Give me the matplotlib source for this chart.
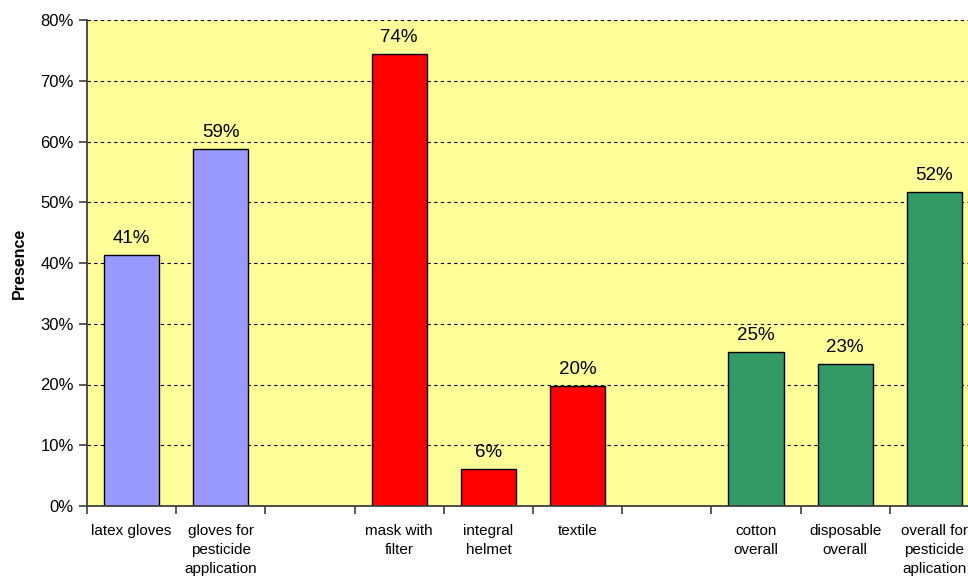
"""Presence of protective equipment, grouped bar chart."""

import matplotlib

matplotlib.use("Agg")
import matplotlib.pyplot as plt
from matplotlib.ticker import PercentFormatter

plt.rcParams["font.family"] = ["Liberation Sans", "DejaVu Sans"]

# data (None = empty gap slot between groups)
categories = [
    "latex gloves",
    "gloves for\npesticide\napplication",
    "",
    "mask with\nfilter",
    "integral\nhelmet",
    "textile",
    "",
    "cotton\noverall",
    "disposable\noverall",
    "overall for\npesticide\naplication",
]
presence = [41.3, 58.8, None, 74.4, 6.1, 19.7, None, 25.3, 23.4, 51.7]
bar_colors = ["#9999FF", "#9999FF", None, "#FF0000", "#FF0000", "#FF0000",
              None, "#339966", "#339966", "#339966"]

fig = plt.figure(figsize=(9.68, 5.78), dpi=100)
ax = fig.add_axes([87 / 968, 72 / 578, 892 / 968, 486 / 578])
ax.set_facecolor("#FFFF99")

n = len(categories)
centers = [i + 0.5 for i in range(n)]
for x, v, c in zip(centers, presence, bar_colors):
    if v is None:
        continue
    ax.bar(x, v, width=0.62, color=c, edgecolor="black", linewidth=1, zorder=3)
    ax.text(x, v + 1.3, f"{round(v):.0f}%", ha="center", va="bottom",
            fontsize=13.5, zorder=4)

ax.set_xlim(0, n)
ax.set_ylim(0, 80)
ax.set_yticks(range(0, 81, 10))
ax.yaxis.set_major_formatter(PercentFormatter(decimals=0))
ax.grid(axis="y", linestyle=(0, (3, 3)), color="black", linewidth=0.8, zorder=1)

# x ticks at slot boundaries, labels centered in slots
ax.set_xticks(range(n + 1))
ax.set_xticklabels([])
ax.set_xticks(centers, minor=True)
ax.set_xticklabels(categories, minor=True, fontsize=11, linespacing=1.46)
ax.tick_params(axis="x", which="minor", length=0, pad=13)
ax.tick_params(axis="x", which="major", length=6, width=1.2, color="#404040")
ax.tick_params(axis="y", length=6, width=1.2, color="#404040", labelsize=12)

for side in ("top", "right"):
    ax.spines[side].set_visible(False)
for side in ("left", "bottom"):
    ax.spines[side].set_color("#404040")
    ax.spines[side].set_linewidth(1.3)
    ax.spines[side].set_zorder(5)

ax.set_ylabel("Presence", fontsize=11.5, fontweight="bold", labelpad=10)

fig.savefig("out.png", dpi=100)
